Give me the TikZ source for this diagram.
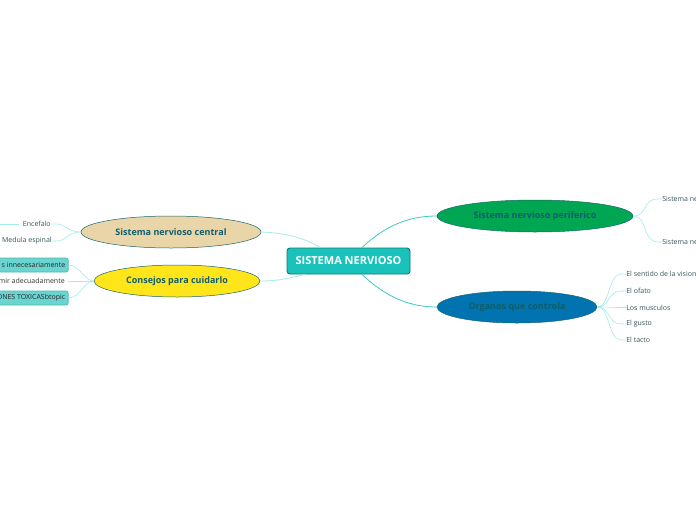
\documentclass[tikz,border=0pt]{standalone}
\usepackage{fontspec}
\setmainfont{Open Sans}
\usetikzlibrary{shapes.geometric, calc}

\definecolor{rootfill}{HTML}{19C3BC}
\definecolor{rootline}{HTML}{0E7A74}
\definecolor{mainlink}{HTML}{3CCAC4}
\definecolor{sublink}{HTML}{A6ECE8}
\definecolor{ovalline}{HTML}{17686C}
\definecolor{ovaltext}{HTML}{0F5E6C}
\definecolor{leaftext}{HTML}{3A5658}
\definecolor{tipfill}{HTML}{6AD4D0}
\definecolor{tipline}{HTML}{4BB9B4}

\begin{document}
\begin{tikzpicture}[x=1pt, y=-1pt, semithick]
            \tikzset{
                root/.style={draw=rootline, fill=rootfill, rounded corners=3pt, line width=0.9pt,
                    minimum width=123pt, minimum height=26pt, inner sep=0pt,
                    text=white, font=\fontsize{11}{13}\selectfont\bfseries},
                oval/.style={ellipse, draw=ovalline, line width=0.5pt, inner sep=0pt,
                    minimum height=32pt, text=ovaltext, font=\fontsize{9}{11}\selectfont\bfseries},
                leaf/.style={inner sep=0pt, text=leaftext, font=\fontsize{7}{8}\selectfont},
                tip/.style={draw=tipline, fill=tipfill, rounded corners=2pt, inner xsep=3pt, inner ysep=0pt,
                    minimum height=14pt, text=black!85, font=\fontsize{7}{8}\selectfont},
                link/.style={draw=mainlink, line width=0.8pt},
                sublinkline/.style={draw=sublink, line width=0.6pt}
            };
            \fill[white] (0, 0) rectangle (696, 520);
            \useasboundingbox (0, 0) rectangle (696, 520);
            \clip (0, 0) rectangle (696, 520);
            % centre
            \node[root] (root) at (348.5, 261) {SISTEMA NERVIOSO};
            % main topics
            \node[oval, fill={rgb,255:red,0;green,166;blue,81}, minimum width=196pt] (perif) at (535, 216) {Sistema nervioso periferico};
            \node[oval, fill={rgb,255:red,0;green,115;blue,176}, minimum width=160pt] (organ) at (517, 307) {Organos que controla};
            \node[oval, fill={rgb,255:red,234;green,213;blue,168}, minimum width=180pt] (snc) at (171, 232) {Sistema nervioso central};
            \node[oval, fill={rgb,255:red,255;green,229;blue,26}, minimum width=166pt] (cons) at (177, 281) {Consejos para cuidarlo};
            \draw[link] ($(root.north)+(13.5, 0)$) .. controls (385, 226) and (408, 216) .. (perif.west);
            \draw[link] ($(root.south)+(13.5, 0)$) .. controls (385, 296) and (408, 307) .. (organ.west);
            \draw[link, draw=sublink] (snc.east) .. controls (290, 233) and (308, 240) .. ($(root.north)-(28, 0)$);
            \draw[link, draw=sublink] (cons.east) .. controls (282, 281) and (292, 277) .. ($(root.south)-(43, 0)$);
            % periferico
            \node[leaf, anchor=west] (somat) at (662, 199) {Sistema nervioso somatico};
            \node[leaf, anchor=west] (auton) at (662, 242) {Sistema nervioso autonomo};
            \foreach \k in {somat, auton}
                \draw[sublinkline] (perif.east) .. controls (648, 216) and (642, 0 |- \k.west) .. ($(\k.west)-(4, 0)$) -- (\k.west);
            % organos
            \node[leaf, anchor=west] (vision) at (626, 274) {El sentido de la vision};
            \node[leaf, anchor=west] (olfato) at (626, 291) {El ofato};
            \node[leaf, anchor=west] (musc) at (626, 307.5) {Los musculos};
            \node[leaf, anchor=west] (gusto) at (626, 324) {El gusto};
            \node[leaf, anchor=west] (tacto) at (626, 340) {El tacto};
            \foreach \k in {vision, olfato, musc, gusto, tacto}
                \draw[sublinkline] (organ.east) .. controls (610, 307) and (608, 0 |- \k.west) .. ($(\k.west)-(5, 0)$) -- (\k.west);
            % central
            \node[leaf, anchor=east] (encef) at (51, 224) {Encefalo};
            \node[leaf, anchor=east] (medula) at (52, 241) {Medula espinal};
            \coordinate (encefout) at (-5, 224);
            \draw[sublinkline] (encef.west) ++(-4, 0) -- (encefout);
            \foreach \k in {encef, medula}
                \draw[sublinkline] (snc.west) .. controls (68, 232) and (66, 0 |- \k.east) .. ($(\k.east)+(5, 0)$) -- (\k.east);
            % consejos
            \node[tip, anchor=east] (medic) at (68.5, 265) {s innecesariamente};
            \node[leaf, anchor=east, text=black!80] (dormir) at (65, 281) {mir adecuadamente};
            \node[tip, anchor=east] (toxic) at (68.5, 298) {ONES TOXICASbtopic};
            \foreach \k in {medic, toxic}
                \draw[sublinkline] (cons.west) .. controls (84, 281) and (80, 0 |- \k.east) .. (\k.east);
            \draw[sublinkline] (cons.west) -- ($(dormir.east)+(3, 0)$);
        \end{tikzpicture}
\end{document}
